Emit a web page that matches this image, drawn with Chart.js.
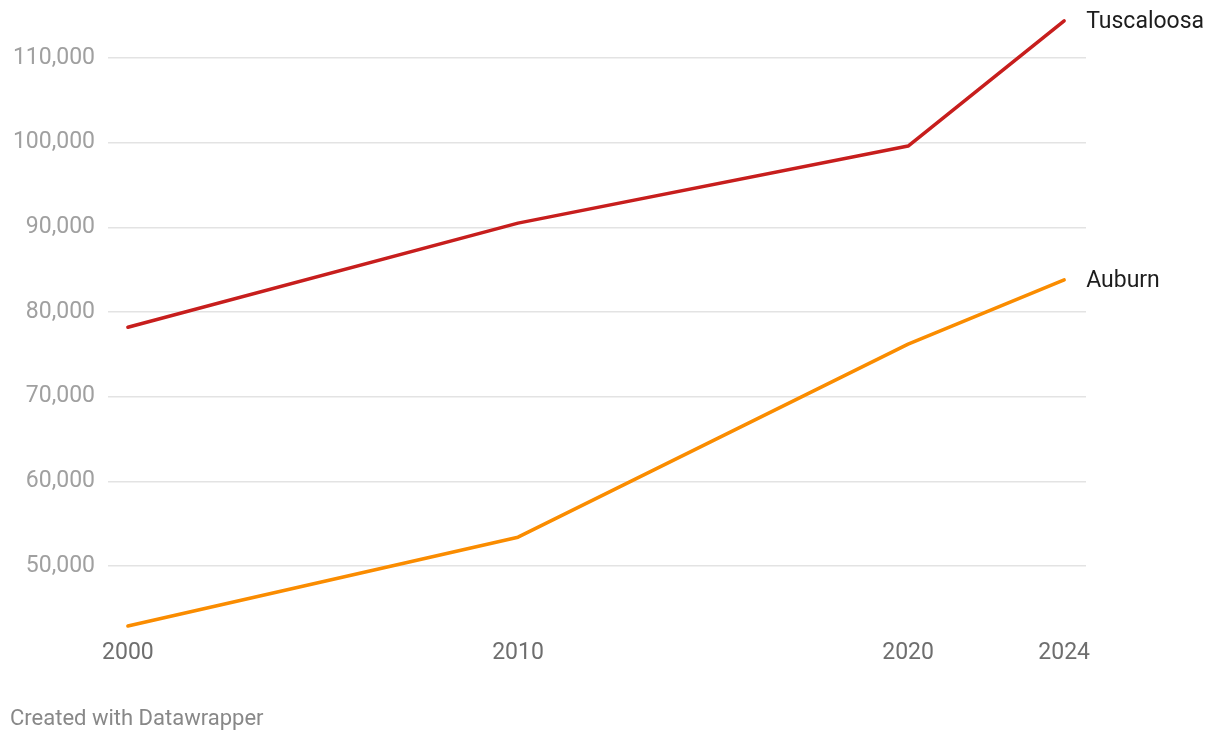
<!DOCTYPE html>
<html>
<head>
<meta charset="utf-8">
<script src="https://cdn.jsdelivr.net/npm/chart.js@4/dist/chart.umd.min.js"></script>
<style>
  html, body { margin: 0; padding: 0; background: #fff; }
  #wrap { position: relative; width: 1220px; height: 742px; }
  #chart { position: absolute; left: 0; top: 0; }
  #credit { position: absolute; left: 10px; top: 705px; font: 22px Roboto, sans-serif; line-height: 26px; color: #888; }
</style>
</head>
<body>
<div id="wrap">
  <canvas id="chart" width="1220" height="742"></canvas>
  <div id="credit">Created with Datawrapper</div>
</div>
<script>
const years = [2000, 2010, 2020, 2024];
const tuscaloosa = [78200, 90500, 99600, 114400];
const auburn = [42900, 53400, 76200, 83800];
const yTicks = [50000, 60000, 70000, 80000, 90000, 100000, 110000];
const xTicks = [2000, 2010, 2020, 2024];

const toPoints = vals => years.map((y, i) => ({x: y, y: vals[i]}));

// names at the end of each line
const endLabels = {
  id: 'endLabels',
  afterDatasetsDraw(chart) {
    const ctx = chart.ctx;
    ctx.save();
    ctx.font = '23px Roboto, sans-serif';
    ctx.fillStyle = '#1d1d1d';
    ctx.textBaseline = 'middle';
    ctx.textAlign = 'left';
    chart.data.datasets.forEach((ds, i) => {
      const pts = chart.getDatasetMeta(i).data;
      const last = pts[pts.length - 1];
      ctx.fillText(ds.label, last.x + 22, last.y + 1);
    });
    ctx.restore();
  }
};

new Chart(document.getElementById('chart'), {
  type: 'line',
  data: {
    datasets: [
      { label: 'Tuscaloosa', data: toPoints(tuscaloosa), borderColor: '#c71e1d' },
      { label: 'Auburn', data: toPoints(auburn), borderColor: '#fa8c00' }
    ]
  },
  options: {
    responsive: false,
    animation: false,
    layout: { padding: { left: 0, right: 134, top: 15.7, bottom: 68.3 } },
    elements: {
      point: { radius: 0 },
      line: { borderWidth: 3.5, tension: 0, borderCapStyle: 'round', borderJoinStyle: 'round' }
    },
    plugins: { legend: { display: false }, tooltip: { enabled: false } },
    scales: {
      x: {
        type: 'linear',
        min: 1999.49,
        max: 2024.56,
        afterBuildTicks: s => { s.ticks = xTicks.map(v => ({value: v})); },
        afterFit: s => { s.height = 40; s.paddingLeft = 0; s.paddingRight = 0; },
        grid: { display: false, drawTicks: false },
        border: { display: false },
        ticks: {
          padding: 6,
          color: '#6e6e6e',
          font: { family: 'Roboto', size: 23 },
          callback: v => String(v),
          maxRotation: 0,
          autoSkip: false
        }
      },
      y: {
        min: 42000,
        max: 115000,
        afterBuildTicks: s => { s.ticks = yTicks.map(v => ({value: v})); },
        afterFit: s => { s.width = 108; s.paddingTop = 0; s.paddingBottom = 0; },
        grid: { color: '#e3e3e3', lineWidth: 1.5, drawTicks: false },
        border: { display: false },
        ticks: {
          padding: 13,
          color: '#a0a0a0',
          font: { family: 'Roboto', size: 23 },
          callback: v => v.toLocaleString('en-US')
        }
      }
    }
  },
  plugins: [endLabels]
});
</script>
</body>
</html>
